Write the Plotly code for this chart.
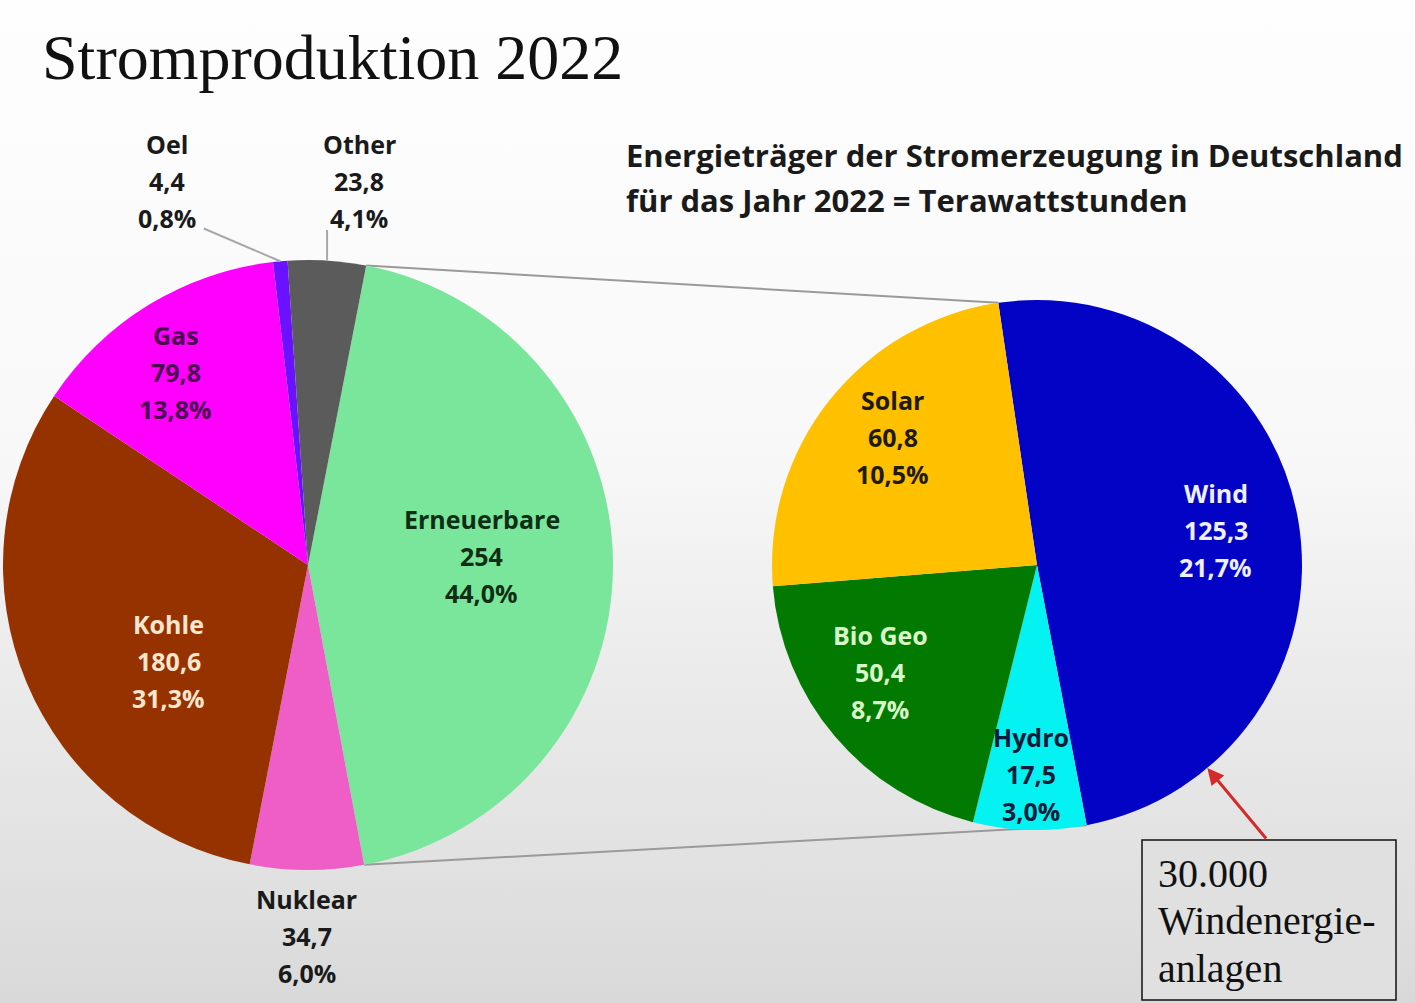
import math
import base64
import plotly.graph_objects as go

# Stromerzeugung Deutschland 2022 in TWh
main_labels = ["Erneuerbare", "Nuklear", "Kohle", "Gas", "Oel", "Other"]
main_values = [254, 34.7, 180.6, 79.8, 4.4, 23.8]

# Aufteilung der Erneuerbaren in TWh
ren_labels = ["Wind", "Hydro", "Bio Geo", "Solar"]
ren_values = [125.3, 17.5, 50.4, 60.8]

title = "Stromproduktion 2022"
subtitle = ["Energieträger der Stromerzeugung in Deutschland",
            "für das Jahr 2022 = Terawattstunden"]
note = ["30.000", "Windenergie-", "anlagen"]

main_colors = ["#7ae69c", "#ee5ec6", "#953200", "#ff00ff", "#6a12ff", "#5b5b5b"]
ren_colors = ["#0303c6", "#05f2f2", "#027a02", "#ffc000"]

W, H = 1415, 1003
SANS = "Open Sans"
SERIF = "Liberation Serif"

# pie geometry in pixels: centre, radius, start angle (clockwise from 12 o'clock)
LEFT = dict(cx=308, cy=565, r=305, rot=11)
RIGHT = dict(cx=1037, cy=565, r=265, rot=-8.4)

# label placement: (radius fraction, angle shift, text colour)
main_style = {
    "Erneuerbare": (0.57, -3, "#0f2e14"),
    "Nuklear": (1.216, 0, "#1a1a1a"),
    "Kohle": (0.556, -12, "#fbe6cf"),
    "Gas": (0.767, -3, "#4b0a4f"),
    "Oel": (1.34, -15, "#1a1a1a"),
    "Other": (1.27, 4, "#1a1a1a"),
}
ren_style = {
    "Wind": (0.688, -1.5, "#eef0ff"),
    "Hydro": (0.789, 0, "#0b1b3a"),
    "Bio Geo": (0.715, 6, "#d9f7c9"),
    "Solar": (0.727, 3, "#1e1a05"),
}


def px(x, y):
    return x / W, 1 - y / H


def domain(p):
    x0, y0 = px(p["cx"] - p["r"], p["cy"] + p["r"])
    x1, y1 = px(p["cx"] + p["r"], p["cy"] - p["r"])
    return dict(x=[x0, x1], y=[y0, y1])


def edge(p, ang, k=1.0):
    a = math.radians(ang)
    return p["cx"] + k * p["r"] * math.sin(a), p["cy"] - k * p["r"] * math.cos(a)


def bounds(p, values):
    tot = sum(values)
    out, a = [], p["rot"]
    for v in values:
        b = a + 360 * v / tot
        out.append((a, b))
        a = b
    return out


grand = sum(main_values)


def fmt_val(v):
    return f"{v:g}".replace(".", ",")


def fmt_pct(v):
    return f"{v / grand * 100:.1f}".replace(".", ",") + "%"


fig = go.Figure()
for p, labels, values, colors in [(LEFT, main_labels, main_values, main_colors),
                                  (RIGHT, ren_labels, ren_values, ren_colors)]:
    fig.add_trace(go.Pie(
        labels=labels, values=values, sort=False, direction="clockwise",
        rotation=p["rot"], marker=dict(colors=colors, line=dict(width=0)),
        textinfo="none", hoverinfo="label+value", showlegend=False,
        domain=domain(p),
    ))

annotations = []
shapes = []


def add_text(x, y, text, size, color, family=SANS, weight="bold", anchor="center"):
    fx, fy = px(x, y)
    annotations.append(dict(
        x=fx, y=fy, xref="paper", yref="paper", text=text, showarrow=False,
        xanchor=anchor, yanchor="middle",
        font=dict(family=family, size=size, color=color, weight=weight),
    ))


label_pos = {}
for p, labels, values, style in [(LEFT, main_labels, main_values, main_style),
                                 (RIGHT, ren_labels, ren_values, ren_style)]:
    for name, v, (a, b) in zip(labels, values, bounds(p, values)):
        k, shift, color = style[name]
        x, y = edge(p, (a + b) / 2 + shift, k)
        label_pos[name] = (x, y, (a + b) / 2)
        for i, line in enumerate([name, fmt_val(v), fmt_pct(v)]):
            add_text(x, y + (i - 1) * 37, line, 25, color)

# connector lines between the pies
lb = bounds(LEFT, main_values)[0]
rb = bounds(RIGHT, ren_values)[0]
for i in range(2):
    x0, y0 = px(*edge(LEFT, lb[i]))
    x1, y1 = px(*edge(RIGHT, rb[i]))
    shapes.append(dict(type="line", xref="paper", yref="paper", x0=x0, y0=y0,
                       x1=x1, y1=y1, line=dict(color="#9a9a9a", width=2),
                       layer="below"))

# leader lines for small slices
for name, off in [("Oel", (37, 47)), ("Other", (-32, 49))]:
    lx, ly, mid = label_pos[name]
    x0, y0 = px(*edge(LEFT, mid))
    x1, y1 = px(lx + off[0], ly + off[1])
    shapes.append(dict(type="line", xref="paper", yref="paper", x0=x0, y0=y0,
                       x1=x1, y1=y1, line=dict(color="#a8a8a8", width=2)))

# titles
add_text(40, 57, title, 64, "#111111", family=SERIF, weight="normal", anchor="left")
for i, line in enumerate(subtitle):
    add_text(624, 155 + i * 45, line, 31, "#1a1a1a", anchor="left")

# note box with arrow to the wind slice
bx0, by0 = px(1142, 840)
bx1, by1 = px(1396, 1000)
shapes.append(dict(type="rect", xref="paper", yref="paper", x0=bx0, y0=by0,
                   x1=bx1, y1=by1, fillcolor="#e0e0e0",
                   line=dict(color="#111111", width=1.5)))
for i, line in enumerate(note):
    add_text(1156, 873 + i * 47.5, line, 40, "#111111", family=SERIF,
             weight="normal", anchor="left")

ax, ay = px(*edge(RIGHT, 140))
annotations.append(dict(x=ax, y=ay, xref="paper", yref="paper", text="",
                        showarrow=True, ax=60, ay=72, arrowhead=2, arrowsize=1.1,
                        arrowwidth=3, arrowcolor="#d42a2a"))

# soft grey slide background
svg = ('<svg xmlns="http://www.w3.org/2000/svg" width="10" height="100" preserveAspectRatio="none">'
       '<defs><linearGradient id="g" x1="0" y1="0" x2="0" y2="1">'
       '<stop offset="0" stop-color="#fefefe"/><stop offset="0.45" stop-color="#f8f8f8"/>'
       '<stop offset="0.65" stop-color="#ececec"/><stop offset="0.85" stop-color="#e2e2e2"/>'
       '<stop offset="1" stop-color="#d9d9d9"/></linearGradient></defs>'
       '<rect width="10" height="100" fill="url(#g)"/></svg>')
bg = "data:image/svg+xml;base64," + base64.b64encode(svg.encode()).decode()

fig.update_layout(
    width=W, height=H,
    margin=dict(l=0, r=0, t=0, b=0),
    paper_bgcolor="#f4f4f4",
    plot_bgcolor="rgba(0,0,0,0)",
    annotations=annotations,
    shapes=shapes,
    images=[dict(source=bg, xref="paper", yref="paper", x=0, y=1, sizex=1,
                 sizey=1, sizing="stretch", layer="below", xanchor="left",
                 yanchor="top")],
)

# drop the browser's default body margin so the figure fills the window
fig.write_html("out.html", config={"displayModeBar": False},
               post_script="document.body.style.margin = '0';")
